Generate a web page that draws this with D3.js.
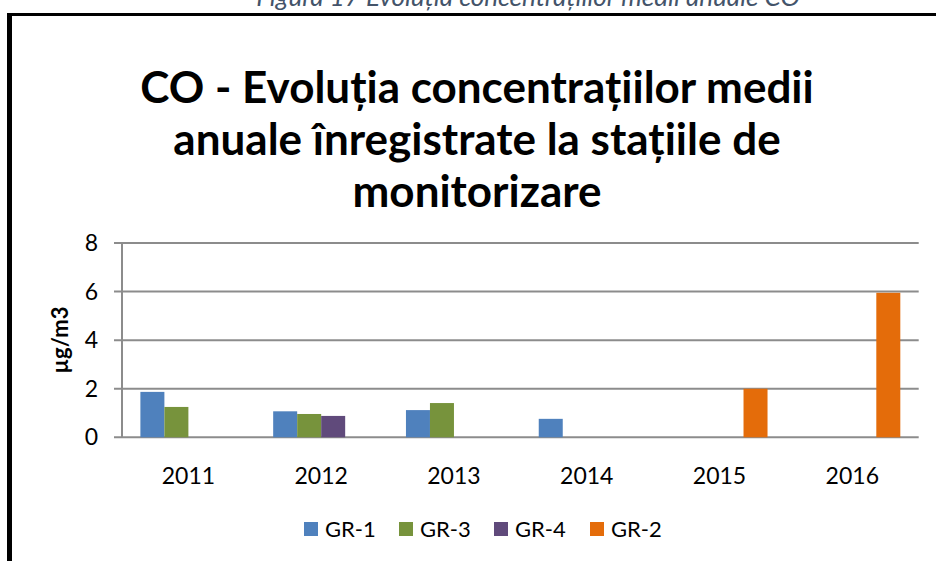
<!DOCTYPE html>
<html>
<head>
<meta charset="utf-8">
<script src="https://cdn.jsdelivr.net/npm/d3@7/dist/d3.min.js"></script>
<style>
  body { margin: 0; background: #fff; }
  svg { display: block; font-family: Lato, "Open Sans", sans-serif; }
</style>
</head>
<body>
<div id="chart"></div>
<script>
// ---- data -------------------------------------------------------------
const years = ['2011', '2012', '2013', '2014', '2015', '2016'];
const seriesNames = ['GR-1', 'GR-3', 'GR-4', 'GR-2'];
const gr1 = [1.87, 1.07, 1.12, 0.76, null, null];
const gr3 = [1.25, 0.96, 1.41, null, null, null];
const gr4 = [null, 0.88, null, null, null, null];
const gr2 = [null, null, null, null, 2.0, 5.95];
const yTicks = [0, 2, 4, 6, 8];
const colors = ['#4f81bd', '#77933c', '#604a7b', '#e46c0a'];

const captionText = 'Figura 17 Evoluția concentrațiilor medii anuale CO';
const titleLines = [
	'CO - Evoluția concentrațiilor medii',
	'anuale înregistrate la stațiile de',
	'monitorizare'
];
const yLabel = 'µg/m3';

//-----------------------------------------------------
const W = 936, H = 561;
const seriesVals = [gr1, gr3, gr4, gr2];

const svg = d3.select('#chart').append('svg')
	.attr('width', W)
	.attr('height', H);

// caption above the frame (clipped by the page top)
svg.append('text')
	.attr('x', 528)
	.attr('y', 6)
	.attr('text-anchor', 'middle')
	.attr('font-size', 26)
	.attr('font-style', 'italic')
	.attr('fill', '#44546a')
	.text(captionText);

// frame
svg.append('rect').attr('x', 7).attr('y', 13).attr('width', 5).attr('height', H - 13).attr('fill', '#000');
svg.append('rect').attr('x', 7).attr('y', 13).attr('width', W - 7).attr('height', 3).attr('fill', '#000');

// title
svg.selectAll('.title')
	.data(titleLines)
	.enter()
	.append('text')
	.attr('class', 'title')
	.attr('x', 477)
	.attr('y', (d, i) => 103 + i * 52)
	.attr('text-anchor', 'middle')
	.attr('font-size', 44)
	.attr('font-weight', 'bold')
	.attr('fill', '#000')
	.text(d => d);

// scales
const x0 = d3.scaleBand()
	.domain(years)
	.range([122, 918.7])
	.padding(0);

const x1 = d3.scaleBand()
	.domain(seriesNames)
	.range([0, x0.bandwidth()])
	.paddingInner(0)
	.paddingOuter((x0.bandwidth() / 24 - 4) / 2);

const y = d3.scaleLinear()
	.domain([0, 8])
	.range([437.3, 243]);

// gridlines
svg.selectAll('.grid')
	.data(yTicks)
	.enter()
	.append('line')
	.attr('class', 'grid')
	.attr('x1', 114)
	.attr('x2', 918.7)
	.attr('y1', d => y(d))
	.attr('y2', d => y(d))
	.attr('stroke', '#8c8c8c')
	.attr('stroke-width', 2);

// y axis line
svg.append('line')
	.attr('x1', 122).attr('x2', 122)
	.attr('y1', y(8)).attr('y2', y(0))
	.attr('stroke', '#8c8c8c')
	.attr('stroke-width', 2);

// y tick labels
svg.selectAll('.ytick')
	.data(yTicks)
	.enter()
	.append('text')
	.attr('class', 'ytick')
	.attr('x', 98)
	.attr('y', d => y(d))
	.attr('dy', '0.35em')
	.attr('text-anchor', 'end')
	.attr('font-size', 23)
	.attr('fill', '#000')
	.text(d => d);

// y label
svg.append('text')
	.attr('transform', 'translate(68,340) rotate(-90)')
	.attr('text-anchor', 'middle')
	.attr('font-size', 22)
	.attr('font-weight', 'bold')
	.attr('fill', '#000')
	.text(yLabel);

// bars
const groups = svg.selectAll('.series')
	.data(seriesNames)
	.enter()
	.append('g')
	.attr('class', 'series')
	.attr('fill', (d, i) => colors[i]);

groups.selectAll('rect')
	.data((s, si) => years.map((yr, i) => ({ yr: yr, s: s, v: seriesVals[si][i] }))
		.filter(d => d.v != null))
	.enter()
	.append('rect')
	.attr('x', d => x0(d.yr) + x1(d.s))
	.attr('width', x1.bandwidth())
	.attr('y', d => y(d.v))
	.attr('height', d => y(0) - y(d.v));

// x labels
svg.selectAll('.xlab')
	.data(years)
	.enter()
	.append('text')
	.attr('class', 'xlab')
	.attr('x', d => x0(d) + x0.bandwidth() / 2)
	.attr('y', 484)
	.attr('text-anchor', 'middle')
	.attr('font-size', 23)
	.attr('fill', '#000')
	.text(d => d);

// legend
const legX = [304, 399, 494, 590];
const leg = svg.selectAll('.leg')
	.data(seriesNames)
	.enter()
	.append('g')
	.attr('class', 'leg')
	.attr('transform', (d, i) => 'translate(' + legX[i] + ',522)');

leg.append('rect')
	.attr('width', 14)
	.attr('height', 14)
	.attr('fill', (d, i) => colors[i]);

leg.append('text')
	.attr('x', 21)
	.attr('y', 7)
	.attr('dy', '0.35em')
	.attr('font-size', 22)
	.attr('fill', '#000')
	.text(d => d);
</script>
</body>
</html>
